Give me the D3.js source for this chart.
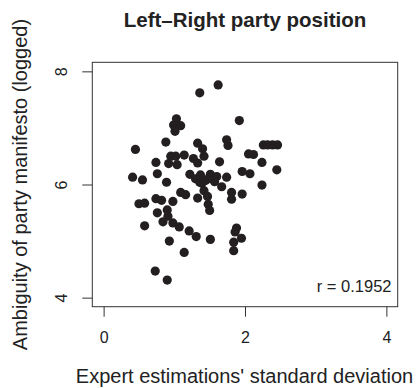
<!DOCTYPE html>
<html>
<head>
<meta charset="utf-8">
<script src="https://cdn.jsdelivr.net/npm/d3@7"></script>
<style>
  html, body { margin: 0; padding: 0; background: #fff; }
  svg { display: block; font-family: "Liberation Sans", Arial, Helvetica, sans-serif; }
</style>
</head>
<body>
<svg id="chart" width="420" height="388"></svg>
<script>
// Expert standard deviation (x) vs. logged manifesto ambiguity (y), one point per party
const sdExpert = [
  1.36, 1.62, 1.92, 1.03, 0.99, 1.09, 1.01, 1.33, 1.40, 0.88,
  0.45, 1.74, 1.76, 2.26, 2.32, 2.39, 2.46, 2.05, 2.12, 2.24,
  1.64, 1.42, 1.33, 1.27, 0.95, 1.02, 1.14, 0.92, 1.04, 0.74,
  0.76, 0.41, 0.55, 0.89, 1.96, 2.07, 2.45, 2.24, 1.22, 1.37,
  1.51, 1.60, 1.74, 1.36, 1.44, 1.57, 1.39, 1.67, 1.42, 1.47,
  1.33, 1.48, 1.50, 1.09, 1.16, 1.30, 1.48, 1.81, 1.96, 1.81,
  1.88, 1.86, 1.95, 1.84, 1.84, 0.50, 0.58, 0.58, 0.74, 0.82,
  0.98, 0.76, 0.90, 0.91, 0.84, 0.98, 1.07, 1.21, 1.31, 0.93,
  1.14, 0.73, 0.90, 1.51
];
const ambiguity = [
  7.62, 7.76, 7.13, 7.16, 7.05, 7.04, 6.94, 6.73, 6.63, 6.75,
  6.62, 6.79, 6.69, 6.70, 6.70, 6.70, 6.70, 6.54, 6.53, 6.39,
  6.40, 6.50, 6.38, 6.46, 6.50, 6.50, 6.52, 6.37, 6.35, 6.39,
  6.19, 6.13, 6.08, 6.04, 6.23, 6.19, 6.26, 5.99, 6.18, 6.17,
  6.18, 6.14, 6.13, 6.04, 6.07, 6.05, 6.02, 5.96, 5.89, 5.79,
  5.76, 5.65, 5.54, 5.86, 5.82, 6.10, 6.10, 5.86, 5.83, 5.74,
  5.23, 5.16, 5.05, 4.98, 4.83, 5.66, 5.67, 5.27, 5.75, 5.72,
  5.70, 5.50, 5.55, 5.44, 5.34, 5.32, 5.25, 5.18, 5.08, 5.00,
  4.80, 4.47, 4.31, 5.03
];
const xTicks = [0, 2, 4];
const yTicks = [4, 6, 8];
const titleText = "Left\u2013Right party position";
const xTitle = "Expert estimations' standard deviation";
const yTitle = "Ambiguity of party manifesto (logged)";
const rLabel = "r = 0.1952";

const svg = d3.select("#chart");
const ink = "#231f20";
const textInk = "#222";
const fam = "Liberation Sans, Arial, sans-serif";

// plotting region with the usual 4% padding around the axis ranges
const xDom = [-0.16, 4.16], yDom = [3.84, 8.16];
const x = d3.scaleLinear().domain(xDom).range([92.3, 397.7]);
const y = d3.scaleLinear().domain(yDom).range([306.7, 62.3]);

// frame
svg.append("rect")
  .attr("x", x(xDom[0])).attr("y", y(yDom[1]))
  .attr("width", x(xDom[1]) - x(xDom[0]))
  .attr("height", y(yDom[0]) - y(yDom[1]))
  .attr("fill", "none").attr("stroke", "#333").attr("stroke-width", 1);

// x axis (ticks outside the frame)
const xAxis = svg.append("g").attr("transform", `translate(0,${y(yDom[0])})`)
  .call(d3.axisBottom(x).tickValues(xTicks).tickSize(10).tickPadding(15).tickFormat(d3.format("d")));
xAxis.select(".domain").remove();
xAxis.selectAll("line").attr("stroke", "#333");
xAxis.selectAll("text").attr("font-size", 16).attr("fill", textInk).attr("font-family", fam);

// y axis with vertical tick labels
const yAxis = svg.append("g").attr("transform", `translate(${x(xDom[0])},0)`)
  .call(d3.axisLeft(y).tickValues(yTicks).tickSize(10).tickFormat(d3.format("d")));
yAxis.select(".domain").remove();
yAxis.selectAll("line").attr("stroke", "#333");
yAxis.selectAll("text")
  .attr("font-size", 16).attr("fill", textInk).attr("font-family", fam)
  .attr("x", null).attr("dy", "0.35em")
  .attr("text-anchor", "middle")
  .attr("transform", "translate(-31,0) rotate(-90)");

// points
svg.append("g").selectAll("circle")
  .data(d3.zip(sdExpert, ambiguity))
  .join("circle")
  .attr("cx", d => x(d[0]))
  .attr("cy", d => y(d[1]))
  .attr("r", 4.6)
  .attr("fill", ink);

// titles and correlation label
svg.append("text").attr("x", 245).attr("y", 27)
  .attr("text-anchor", "middle").attr("font-size", 20.5).attr("font-weight", "bold")
  .attr("fill", textInk).text(titleText);

svg.append("text").attr("x", 244.5).attr("y", 383)
  .attr("text-anchor", "middle").attr("font-size", 20).attr("fill", textInk).text(xTitle);

svg.append("text")
  .attr("transform", `translate(27,${(y(yDom[0]) + y(yDom[1])) / 2}) rotate(-90)`)
  .attr("text-anchor", "middle").attr("font-size", 20).attr("fill", textInk).text(yTitle);

svg.append("text").attr("x", 391.5).attr("y", 292)
  .attr("text-anchor", "end").attr("font-size", 16.5).attr("fill", textInk).text(rLabel);
</script>
</body>
</html>
